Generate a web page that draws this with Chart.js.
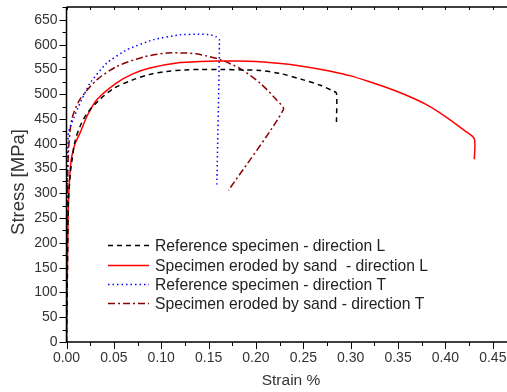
<!DOCTYPE html>
<html>
<head>
<meta charset="utf-8">
<script src="https://cdn.jsdelivr.net/npm/chart.js@4"></script>
<style>
  html, body { margin: 0; padding: 0; background: #fff; }
  #wrap { width: 507px; height: 392px; }
</style>
</head>
<body>
<div id="wrap"><canvas id="chart"></canvas></div>
<script>
// series labels
const labels = [
  "Reference specimen - direction L",
  "Specimen eroded by sand  - direction L",
  "Reference specimen - direction T",
  "Specimen eroded by sand - direction T",
];
const xTitle = "Strain %";
const yTitle = "Stress [MPa]";

// Reference specimen, direction L (strain, stress)
const refLStrain = [0, 0.001, 0.002, 0.004, 0.0055, 0.009, 0.0143, 0.022, 0.035, 0.05, 0.07, 0.088, 0.106, 0.125, 0.141, 0.165, 0.185, 0.204, 0.225, 0.25, 0.268, 0.282, 0.285, 0.285];
const refLStress = [0, 150, 280, 340, 362, 405, 435, 462, 489, 512, 529, 540, 546, 549, 550, 550, 549, 548, 542, 529, 518, 506, 502, 444];

// Eroded specimen, direction L
const eroLStrain = [0, 0.001, 0.002, 0.004, 0.0055, 0.009, 0.0143, 0.022, 0.032, 0.053, 0.07, 0.088, 0.12, 0.141, 0.16, 0.18, 0.2, 0.22, 0.24, 0.26, 0.28, 0.3, 0.32, 0.34, 0.36, 0.38, 0.4, 0.42, 0.4305, 0.4305];
const eroLStress = [0, 150, 280, 350, 374, 400, 422, 457, 489, 523, 541, 553, 564, 566, 567, 567, 566, 563, 559, 553, 546, 537, 525, 512, 497, 479, 455, 427, 410, 369];

// Reference specimen, direction T
const refTStrain = [0, 0.0005, 0.001, 0.002, 0.0055, 0.0143, 0.025, 0.0425, 0.064, 0.0916, 0.12, 0.14, 0.152, 0.158, 0.1614, 0.1587];
const refTStress = [0, 200, 350, 422, 442, 482, 523, 563, 590, 610, 620, 621, 620, 616, 610, 317];

// Eroded specimen, direction T
const eroTStrain = [0, 0.0008, 0.002, 0.0055, 0.014, 0.032, 0.053, 0.081, 0.106, 0.127, 0.141, 0.162, 0.183, 0.204, 0.222, 0.229, 0.171];
const eroTStress = [0, 250, 381, 449, 489, 529, 556, 575, 583, 583, 580, 570, 552, 523, 488, 469, 306];

// axis ticks
const xMajor = [0, 0.05, 0.1, 0.15, 0.2, 0.25, 0.3, 0.35, 0.4, 0.45];
const yMajor = [0, 50, 100, 150, 200, 250, 300, 350, 400, 450, 500, 550, 600, 650];

const styles = [
  { color: "#000000", dash: [5, 4], tension: 0.3 },
  { color: "#ff0000", dash: [], tension: 0.25 },
  { color: "#0000ff", dash: [1.5, 3], tension: 0.15 },
  { color: "#8b0000", dash: [7, 3, 2, 3], tension: 0.25 },
];

function toPoints(xs, ys) {
  return xs.map((x, i) => ({ x, y: ys[i] }));
}

const series = [
  toPoints(refLStrain, refLStress),
  toPoints(eroLStrain, eroLStress),
  toPoints(refTStrain, refTStress),
  toPoints(eroTStrain, eroTStress),
];

const FONT = "'Liberation Sans', Arial, sans-serif";

// axis lines, major/minor ticks, axis titles and the inside legend
const framePlugin = {
  id: "frame",
  afterDraw(chart) {
    const { ctx, chartArea: a, scales } = chart;
    const xs = scales.x, ys = scales.y;
    ctx.save();
    ctx.strokeStyle = "#000";
    ctx.lineWidth = 1.5;
    ctx.beginPath();
    ctx.moveTo(a.left, a.top);
    ctx.lineTo(a.left, a.bottom);
    ctx.lineTo(a.right, a.bottom);
    ctx.moveTo(a.left, a.top);
    ctx.lineTo(a.right, a.top);
    ctx.stroke();

    ctx.lineWidth = 1;
    ctx.beginPath();
    for (let v = 0; v <= 0.4651; v += 0.025) {
      const px = Math.round(xs.getPixelForValue(v)) + 0.5;
      const major = Math.abs(v / 0.05 - Math.round(v / 0.05)) < 1e-6;
      ctx.moveTo(px, a.bottom);
      ctx.lineTo(px, a.bottom + (major ? 7 : 4));
      ctx.moveTo(px, a.top);
      ctx.lineTo(px, a.top + 3);
    }
    for (let v = 0; v <= 675; v += 25) {
      const py = Math.round(ys.getPixelForValue(v)) + 0.5;
      const major = v % 50 === 0;
      ctx.moveTo(a.left, py);
      ctx.lineTo(a.left - (major ? 7 : 4), py);
    }
    ctx.stroke();

    // axis titles
    ctx.fillStyle = "#333";
    ctx.textAlign = "center";
    ctx.textBaseline = "middle";
    ctx.font = "15.5px " + FONT;
    ctx.fillText(xTitle, 291, 381);
    ctx.save();
    ctx.translate(19, 182);
    ctx.rotate(-Math.PI / 2);
    ctx.font = "18.5px " + FONT;
    ctx.fillText(yTitle, 0, 0);
    ctx.restore();

    // legend
    ctx.font = "15.7px " + FONT;
    ctx.textAlign = "left";
    ctx.fillStyle = "#222";
    const rowY = [245, 265, 284, 303];
    labels.forEach((t, i) => {
      const y = rowY[i] + 0.5;
      ctx.strokeStyle = styles[i].color;
      ctx.lineWidth = 1.3;
      ctx.setLineDash(styles[i].dash);
      ctx.beginPath();
      ctx.moveTo(108, y);
      ctx.lineTo(149, y);
      ctx.stroke();
      ctx.setLineDash([]);
      ctx.fillText(t, 155, y + 1);
    });
    ctx.restore();
  },
};

new Chart(document.getElementById("chart"), {
  type: "scatter",
  data: {
    datasets: series.map((data, i) => ({
      label: labels[i],
      data,
      showLine: true,
      borderColor: styles[i].color,
      borderDash: styles[i].dash,
      borderWidth: 1.5,
      pointRadius: 0,
      tension: styles[i].tension,
      fill: false,
    })),
  },
  options: {
    responsive: true,
    maintainAspectRatio: false,
    animation: false,
    layout: { padding: { top: 7, left: 0, right: 0, bottom: 0 } },
    plugins: { legend: { display: false }, tooltip: { enabled: false } },
    scales: {
      x: {
        type: "linear",
        min: 0,
        max: 0.465,
        grid: { display: false, drawTicks: false },
        border: { display: false },
        afterBuildTicks: (s) => { s.ticks = xMajor.map((v) => ({ value: v })); },
        afterFit: (s) => { s.height = 50; s.paddingRight = 0; s.paddingLeft = 0; },
        ticks: {
          color: "#333",
          font: { family: FONT, size: 14 },
          padding: 8,
          maxRotation: 0,
          callback: (v) => Number(v).toFixed(2),
        },
      },
      y: {
        type: "linear",
        min: 0,
        max: 676,
        grid: { display: false, drawTicks: false },
        border: { display: false },
        afterBuildTicks: (s) => { s.ticks = yMajor.map((v) => ({ value: v })); },
        afterFit: (s) => { s.width = 66.5; s.paddingTop = 0; s.paddingBottom = 0; },
        ticks: {
          color: "#333",
          font: { family: FONT, size: 14 },
          padding: 9,
        },
      },
    },
  },
  plugins: [framePlugin],
});
</script>
</body>
</html>
